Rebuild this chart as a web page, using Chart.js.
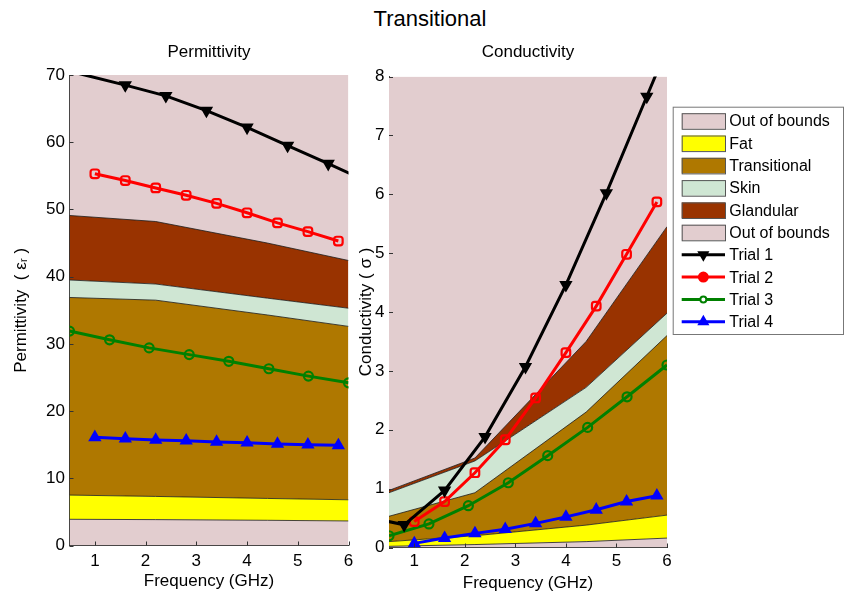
<!DOCTYPE html>
<html>
<head>
<meta charset="utf-8">
<script src="https://cdn.jsdelivr.net/npm/chart.js"></script>
<style>
  body { margin: 0; background: #fff; width: 846px; height: 598px; overflow: hidden; position: relative;
         font-family: Arial, "Liberation Sans", sans-serif; }
  #mainTitle { position: absolute; left: 0; top: 6px; width: 860px; text-align: center;
               font-size: 22px; line-height: 25px; color: #000; }
  #permCanvas { position: absolute; left: 0; top: 0; }
  #condCanvas { position: absolute; left: 350px; top: 0; }
</style>
</head>
<body>
<div id="mainTitle">Transitional</div>
<canvas id="permCanvas" width="360" height="598"></canvas>
<canvas id="condCanvas" width="496" height="598"></canvas>
<script>
// tissue band boundaries (GHz grid)
const bandFreq = [0.5, 2.2, 4.4, 6];
const bandNames = ['Out of bounds', 'Fat', 'Transitional', 'Skin', 'Glandular', 'Out of bounds'];

const permFatLow  = [3.9, 3.85, 3.75, 3.65];
const permFatTop  = [7.5, 7.3, 7.0, 6.8];
const permTransTop = [36.9, 36.5, 34.3, 32.6];
const permSkinTop = [39.5, 38.9, 36.8, 35.3];
const permGlandTop = [49.1, 48.2, 45.0, 42.4];

const condFatLow  = [0.02, 0.05, 0.10, 0.16];
const condFatTop  = [0.10, 0.20, 0.38, 0.55];
const condTransTop = [0.53, 0.93, 2.30, 3.60];
const condSkinTop = [0.93, 1.47, 2.72, 3.98];
const condGlandTop = [0.97, 1.52, 3.50, 5.45];

// trials
const trialNames = ['Trial 1', 'Trial 2', 'Trial 3', 'Trial 4'];
const trial1Freq = [0, 0.8, 1.6, 2.4, 3.2, 4.0, 4.8, 5.6, 6.4];
const trial2Freq = [1.0, 1.6, 2.2, 2.8, 3.4, 4.0, 4.6, 5.2, 5.8];
const trial3Freq = [0.5, 1.29, 2.07, 2.86, 3.64, 4.43, 5.21, 6.0];
const trial4Freq = [1.0, 1.6, 2.2, 2.8, 3.4, 4.0, 4.6, 5.2, 5.8];

const permTrial1 = [71.5, 70.0, 68.5, 66.9, 64.7, 62.2, 59.5, 56.8, 54.1];
const permTrial2 = [55.3, 54.3, 53.2, 52.1, 50.9, 49.5, 48.0, 46.7, 45.3];
const permTrial3 = [31.9, 30.6, 29.4, 28.4, 27.4, 26.3, 25.2, 24.2];
const permTrial4 = [16.1, 15.9, 15.7, 15.6, 15.4, 15.3, 15.1, 15.0, 14.9];

const condTrial1 = [0.53, 0.385, 0.97, 1.88, 3.07, 4.46, 6.02, 7.66, 9.3];
const condTrial2 = [0.44, 0.78, 1.27, 1.83, 2.54, 3.31, 4.10, 4.98, 5.87];
const condTrial3 = [0.20, 0.40, 0.71, 1.10, 1.56, 2.04, 2.56, 3.10];
const condTrial4 = [0.07, 0.16, 0.24, 0.31, 0.41, 0.52, 0.64, 0.78, 0.88];

// tick labels
const freqTicks = [1, 2, 3, 4, 5, 6];
const permTicks = [0, 10, 20, 30, 40, 50, 60, 70];
const condTicks = [0, 1, 2, 3, 4, 5, 6, 7, 8];

const bandColors = ['#E2CDCF', '#FFFF00', '#AF7800', '#CFE6D3', '#993300', '#E2CDCF'];
const trialStyles = [
  { color: '#000000', style: 'triangle', rot: 180, filled: true,  legendFill: true,  r: 5.5 },
  { color: '#FF0000', style: 'rectRounded', rot: 0, filled: false, legendFill: true,  r: 5 },
  { color: '#008000', style: 'circle', rot: 0, filled: false, legendFill: false, r: 4.5 },
  { color: '#0000FF', style: 'triangle', rot: 0, filled: true,  legendFill: true,  r: 5.5 }
];

Chart.defaults.font.family = 'Arial, "Liberation Sans", sans-serif';
Chart.defaults.color = '#000';

function zip(xs, ys) {
  return xs.map((x, i) => ({ x: x, y: ys[i] }));
}

function bandSets(low, fat, trans, skin, gland) {
  const b = (data, fill, color, bw) => ({
    data: zip(bandFreq, data), fill: fill, backgroundColor: color,
    borderColor: '#1a1a1a', borderWidth: bw, pointRadius: 0, tension: 0, order: 1
  });
  return [
    b(low, 'origin', bandColors[0], 0.8),
    b(fat, '-1', bandColors[1], 0.8),
    b(trans, '-1', bandColors[2], 0.8),
    b(skin, '-1', bandColors[3], 0.8),
    b(gland, '-1', bandColors[4], 0.8),
    b(gland, 'end', bandColors[5], 0)
  ];
}

function trialSets(freqs, vals, yMax) {
  return vals.map((v, i) => {
    const s = trialStyles[i];
    return {
      label: trialNames[i],
      data: zip(freqs[i], v),
      borderColor: s.color,
      borderWidth: 3,
      fill: false,
      pointStyle: s.style,
      pointRotation: s.rot,
      // markers sitting on or past the top edge are not shown in the original
      pointRadius: c => (c.raw && (c.raw.y >= yMax || c.raw.x < 0.5 || c.raw.x > 6)) ? 0 : s.r,
      pointBorderWidth: 2.2,
      pointBorderColor: s.color,
      pointBackgroundColor: s.filled ? s.color : 'rgba(0,0,0,0)',
      order: 0
    };
  });
}

// MATLAB style ticks pointing into the plot
const innerTicks = {
  id: 'innerTicks',
  afterDatasetsDraw(chart) {
    const { ctx, chartArea: a, scales: { x, y } } = chart;
    ctx.save();
    ctx.strokeStyle = '#333';
    ctx.lineWidth = 1;
    ctx.beginPath();
    x.ticks.forEach(t => {
      const px = Math.round(x.getPixelForValue(t.value)) + 0.5;
      ctx.moveTo(px, a.bottom);
      ctx.lineTo(px, a.bottom - 4);
    });
    y.ticks.forEach(t => {
      const py = Math.round(y.getPixelForValue(t.value)) + 0.5;
      ctx.moveTo(a.left, py);
      ctx.lineTo(a.left + 4, py);
    });
    ctx.stroke();
    ctx.restore();
  }
};

function drawMarker(ctx, s, x, y) {
  ctx.fillStyle = s.legendFill ? s.color : '#fff';
  ctx.strokeStyle = s.color;
  ctx.lineWidth = 2;
  const r = s.legendFill ? s.r - 0.5 : 3;
  if (Chart.helpers && Chart.helpers.drawPoint) {
    const style = s.style === 'rectRounded' ? 'circle' : s.style;
    Chart.helpers.drawPoint(ctx, { pointStyle: style, rotation: s.rot, radius: r, borderWidth: 2 }, x, y);
  } else {
    ctx.beginPath();
    ctx.arc(x, y, r, 0, Math.PI * 2);
    ctx.fill();
    ctx.stroke();
  }
}

const boxLegend = {
  id: 'boxLegend',
  afterDraw(chart) {
    const ctx = chart.ctx;
    const bx = 322.7, by = 106.7, bw = 170.3, bh = 227.3;
    const rowY0 = 121, rowStep = 22.3;
    const sx = 331.7, sw = 43.3, sh = 15.6, tx = 379.3;
    ctx.save();
    ctx.fillStyle = '#fff';
    ctx.fillRect(bx, by, bw, bh);
    ctx.strokeStyle = '#777';
    ctx.lineWidth = 1;
    ctx.strokeRect(bx + 0.5, by + 0.5, bw, bh);
    ctx.font = '16px Arial, "Liberation Sans", sans-serif';
    ctx.textBaseline = 'middle';
    ctx.textAlign = 'left';
    bandNames.forEach((name, i) => {
      const cy = rowY0 + i * rowStep;
      ctx.fillStyle = bandColors[i];
      ctx.fillRect(sx, cy - sh / 2, sw, sh);
      ctx.strokeStyle = '#555';
      ctx.lineWidth = 1;
      ctx.strokeRect(sx + 0.5, cy - sh / 2 + 0.5, sw, sh);
      ctx.fillStyle = '#000';
      ctx.fillText(name, tx, cy + 1);
    });
    trialNames.forEach((name, i) => {
      const cy = rowY0 + (bandNames.length + i) * rowStep;
      const s = trialStyles[i];
      ctx.strokeStyle = s.color;
      ctx.lineWidth = 3;
      ctx.beginPath();
      ctx.moveTo(sx, cy);
      ctx.lineTo(sx + sw, cy);
      ctx.stroke();
      drawMarker(ctx, s, sx + sw / 2, cy);
      ctx.fillStyle = '#000';
      ctx.fillText(name, tx, cy + 1);
    });
    ctx.restore();
  }
};

function makeChart(id, cfg) {
  return new Chart(document.getElementById(id), {
    type: 'line',
    data: { datasets: cfg.datasets },
    plugins: cfg.plugins,
    options: {
      responsive: false,
      animation: false,
      events: [],
      layout: { padding: { left: 0, right: cfg.padRight, top: 0, bottom: 0 } },
      plugins: {
        legend: { display: false },
        tooltip: { enabled: false },
        filler: { drawTime: 'beforeDatasetsDraw' },
        title: {
          display: true,
          text: cfg.title,
          fullSize: false,
          font: { size: 17, weight: 'normal' },
          color: '#000',
          padding: { top: 42, bottom: cfg.titleBottom }
        }
      },
      scales: {
        x: {
          type: 'linear',
          min: 0.5,
          max: 6,
          grid: { display: false, drawTicks: false },
          border: { display: true, color: '#333', width: 1 },
          afterBuildTicks: s => { s.ticks = freqTicks.map(v => ({ value: v })); },
          afterFit: s => { s.height = cfg.xHeight; },
          ticks: { font: { size: 17 }, padding: cfg.xTickPad, color: '#000', maxRotation: 0 },
          title: { display: true, text: 'Frequency (GHz)', font: { size: 17 }, color: '#000',
                   padding: { top: 0, bottom: cfg.xTitlePad } }
        },
        y: {
          type: 'linear',
          min: 0,
          max: cfg.yMax,
          grid: { display: false, drawTicks: false },
          border: { display: true, color: '#333', width: 1 },
          afterBuildTicks: s => { s.ticks = cfg.yTicks.map(v => ({ value: v })); },
          afterFit: s => { s.width = cfg.yWidth; },
          ticks: { font: { size: 17 }, padding: 4.5, color: '#000' },
          title: { display: true, text: cfg.yTitle, font: { size: 17 }, color: '#000',
                   padding: { top: cfg.yTitlePad, bottom: 0 } }
        }
      }
    }
  });
}

makeChart('permCanvas', {
  datasets: trialSets([trial1Freq, trial2Freq, trial3Freq, trial4Freq],
                      [permTrial1, permTrial2, permTrial3, permTrial4], 70)
            .concat(bandSets(permFatLow, permFatTop, permTransTop, permSkinTop, permGlandTop)),
  plugins: [innerTicks],
  title: 'Permittivity',
  titleBottom: 12.6,
  padRight: 11.5,
  yWidth: 69.5,
  xHeight: 52.5,
  xTickPad: 6,
  xTitlePad: 6,
  yMax: 70,
  yTicks: permTicks,
  yTitle: 'Permittivity  ( \u03b5\u1d63 )',
  yTitlePad: 11
});

makeChart('condCanvas', {
  datasets: trialSets([trial1Freq, trial2Freq, trial3Freq, trial4Freq],
                      [condTrial1, condTrial2, condTrial3, condTrial4], 8)
            .concat(bandSets(condFatLow, condFatTop, condTransTop, condSkinTop, condGlandTop)),
  plugins: [innerTicks, boxLegend],
  title: 'Conductivity',
  titleBottom: 14.1,
  padRight: 179,
  yWidth: 39,
  xHeight: 50.5,
  xTickPad: 4,
  xTitlePad: 4.5,
  yMax: 8,
  yTicks: condTicks,
  yTitle: 'Conductivity ( \u03c3 )',
  yTitlePad: 6
});
</script>
</body>
</html>
